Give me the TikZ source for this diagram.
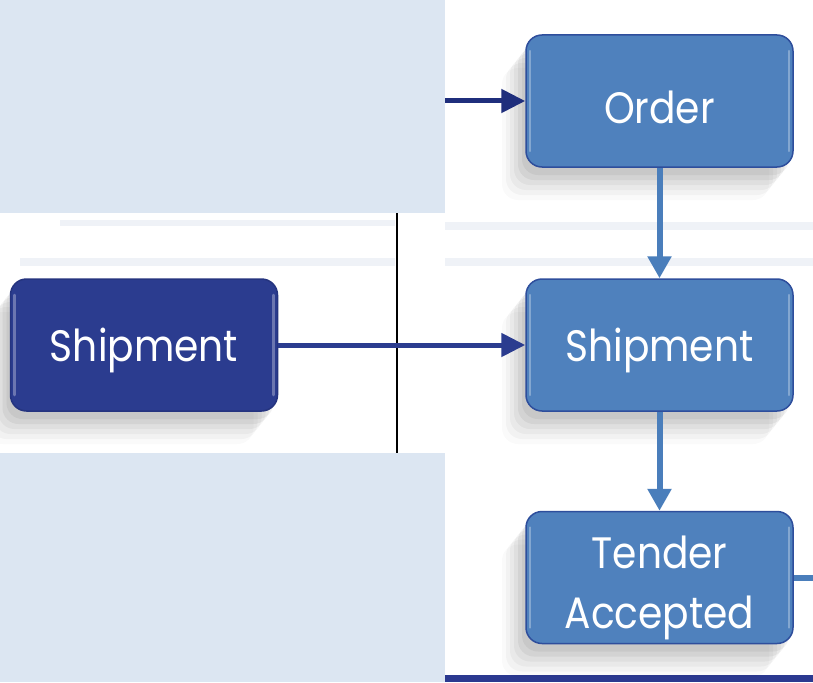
\documentclass[tikz,border=0pt]{standalone}
\usepackage{fontspec}
\setmainfont{Poppins}[FakeStretch=0.89]
\usetikzlibrary{arrows.meta,shadows}
\definecolor{lightbg}{HTML}{DCE6F2}
\definecolor{wmark}{HTML}{EFF2F7}
\definecolor{darkbox}{HTML}{2B3C8F}
\definecolor{darkborder}{HTML}{25347F}
\definecolor{boxblue}{HTML}{4F81BD}
\definecolor{boxborder}{HTML}{2E4E9C}
\definecolor{navy}{HTML}{1F2E7C}
\definecolor{steel}{HTML}{4A7EBB}
\definecolor{barblue}{HTML}{2B3990}
\begin{document}
\begin{tikzpicture}[x=1pt,y=-1pt,
  softshadow/.style={
    drop shadow={shadow xshift=-4pt, shadow yshift=-8pt, opacity=0.05, fill=black},
    drop shadow={shadow xshift=-8pt, shadow yshift=-13pt, opacity=0.05, fill=black},
    drop shadow={shadow xshift=-12pt, shadow yshift=-18pt, opacity=0.04, fill=black},
    drop shadow={shadow xshift=-16pt, shadow yshift=-23pt, opacity=0.035, fill=black},
    drop shadow={shadow xshift=-20pt, shadow yshift=-28pt, opacity=0.03, fill=black},
    drop shadow={shadow xshift=-24pt, shadow yshift=-33pt, opacity=0.02, fill=black}},
  gloss/.style={path picture={
    \draw[white, opacity=0.30, line width=2.5pt, line cap=round]
      ([xshift=4pt,yshift=-16pt]path picture bounding box.north west) --
      ([xshift=4pt,yshift=16pt]path picture bounding box.south west);
    \draw[white, opacity=0.30, line width=2.5pt, line cap=round]
      ([xshift=-4pt,yshift=-16pt]path picture bounding box.north east) --
      ([xshift=-4pt,yshift=16pt]path picture bounding box.south east);}},
  procbox/.style={rectangle, rounded corners=16pt, minimum width=267pt, minimum height=132pt,
    fill=boxblue, draw=boxborder, line width=1.5pt, text=white, align=center, inner sep=0pt,
    font=\fontsize{44}{60}\selectfont, softshadow, gloss,
    execute at begin node={\rule{0pt}{45pt}}},
  darkproc/.style={procbox, fill=darkbox, draw=darkborder},
  flowdark/.style={draw=navy, line width=5pt, -{Triangle[length=24pt,width=23pt]}},
  flowsteel/.style={draw=steel, line width=6pt, -{Triangle[length=22pt,width=23pt]}},
  flowplain/.style={draw=steel, line width=6pt}
]
\useasboundingbox (0,0) rectangle (813,682);
% backgrounds
\fill[white] (0,0) rectangle (813,682);
\fill[lightbg] (0,0) rectangle (445,213);
\fill[lightbg] (0,453) rectangle (445,682);
% faint watermark bands
\fill[wmark] (60,220) rectangle (395,226);
\fill[wmark] (20,258) rectangle (395,266);
\fill[wmark] (445,222) rectangle (813,230);
\fill[wmark] (445,258) rectangle (813,266);
% divider
\draw[black, line width=1.5pt] (397,213) -- (397,453);
% bottom bar
\fill[barblue] (445,675) rectangle (813,682);
% nodes
\node[procbox] (order) at (659.5,101) {Order};
\node[procbox] (ship2) at (659.5,345) {Shipment};
\node[procbox] (tender) at (659.5,577.5) {\rule{0pt}{53pt}Tender\\Accepted};
\node[darkproc] (ship1) at (144,345) {Shipment};
\coordinate (inorder) at (445,101);
\coordinate (outtender) at (813,577.5);
% connectors
\draw[flowdark] (inorder) -- (order.west);
\draw[flowdark, draw=darkbox] (ship1.east) -- (ship2.west);
\draw[flowsteel] (order.south) -- (ship2.north);
\draw[flowsteel] (ship2.south) -- (tender.north);
\draw[flowplain] (tender.east) -- (outtender);
\end{tikzpicture}
\end{document}
